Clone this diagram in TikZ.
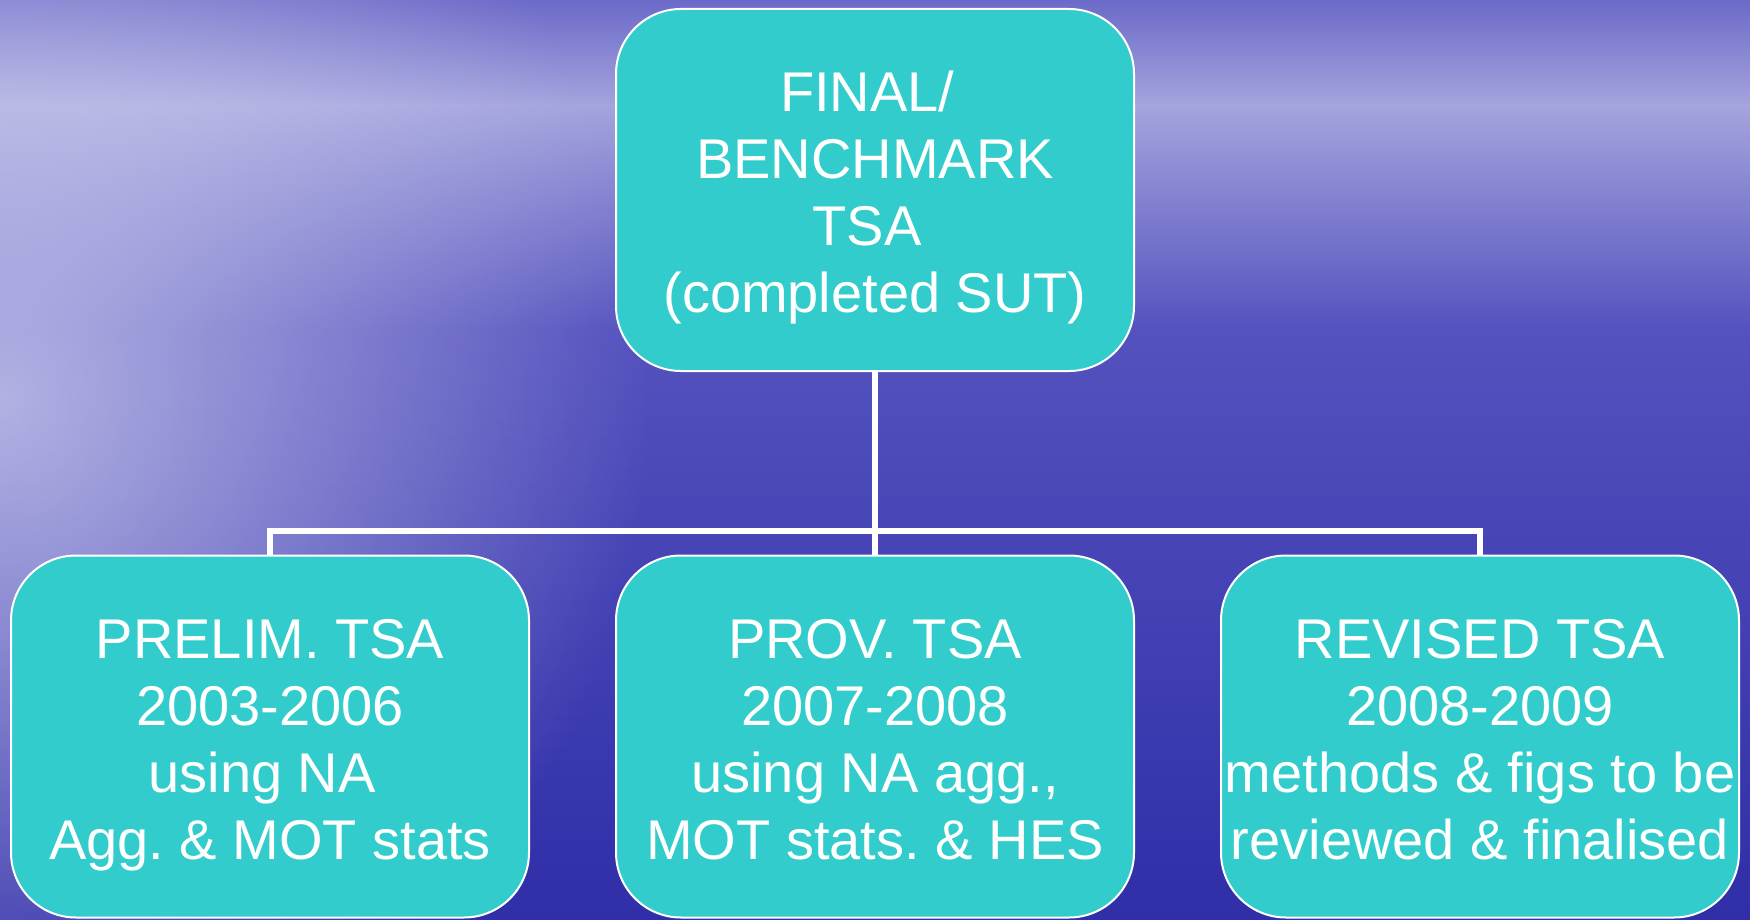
\documentclass[tikz,border=0pt]{standalone}
\usepackage{fontspec}
\setmainfont{Liberation Sans}
\usetikzlibrary{fadings}
\definecolor{boxfill}{HTML}{33CCCC}
\definecolor{skytop}{HTML}{6C6AC8}
\definecolor{horizon}{HTML}{A4A4DE}
\definecolor{seamid}{HTML}{5452BE}
\definecolor{seabot}{HTML}{302EA8}
\definecolor{glow}{HTML}{DCDCF4}
\tikzfading[name=radglow, inner color=transparent!0, outer color=transparent!100]
\tikzfading[name=bandfade, top color=transparent!100, middle color=transparent!0, bottom color=transparent!100]
\frenchspacing
\newcommand\tstrut{\rule{0pt}{57pt}}
\newcommand\bstrut{\rule[-13pt]{0pt}{0pt}}
\newcommand\tspace{\rule{0.28em}{0pt}}
\tikzset{
  tsabox/.style={draw=white, line width=2pt, fill=boxfill, rounded corners=65pt,
    minimum width=518pt, minimum height=362pt, text=white, align=center,
    font=\fontsize{56}{67}\selectfont, inner sep=0pt},
  conn/.style={draw=white, line width=6pt}
}
\begin{document}
\begin{tikzpicture}[x=1pt,y=-1pt]
\useasboundingbox (0,0) rectangle (1750,920);
% background
\begin{scope}
\clip (0,0) rectangle (1750,920);
\shade[top color=skytop, bottom color=horizon] (0,0) rectangle (1750,106);
\shade[top color=horizon, bottom color=seamid] (0,105) rectangle (1750,330);
\shade[top color=seamid, bottom color=seabot] (0,329) rectangle (1750,920);
\fill[glow, path fading=radglow, opacity=0.7] (-650,-300) rectangle (650,1100);
\fill[glow, path fading=bandfade, opacity=0.35] (0,60) rectangle (1750,150);
\end{scope}
% nodes
\node[tsabox] (top) at (875,190) {\tstrut FINAL/\tspace\\BENCHMARK\\TSA\tspace\\(completed SUT)\bstrut};
\node[tsabox] (prelim) at (270,736.5) {\tstrut PRELIM. TSA\\2003-2006\\using NA\tspace\\Agg. \& MOT stats\bstrut};
\node[tsabox] (prov) at (875,736.5) {\tstrut PROV. TSA\\2007-2008\\using NA agg.,\\MOT stats. \& HES\bstrut};
\node[tsabox] (rev) at (1480,736.5) {\tstrut REVISED TSA\\2008-2009\\methods \& figs to be\\reviewed \& finalised\bstrut};
% connectors
\coordinate (bus) at (875,531);
\draw[conn] (top.south) -- (prov.north);
\draw[conn] (prelim.north) |- (bus) -| (rev.north);
\end{tikzpicture}
\end{document}
